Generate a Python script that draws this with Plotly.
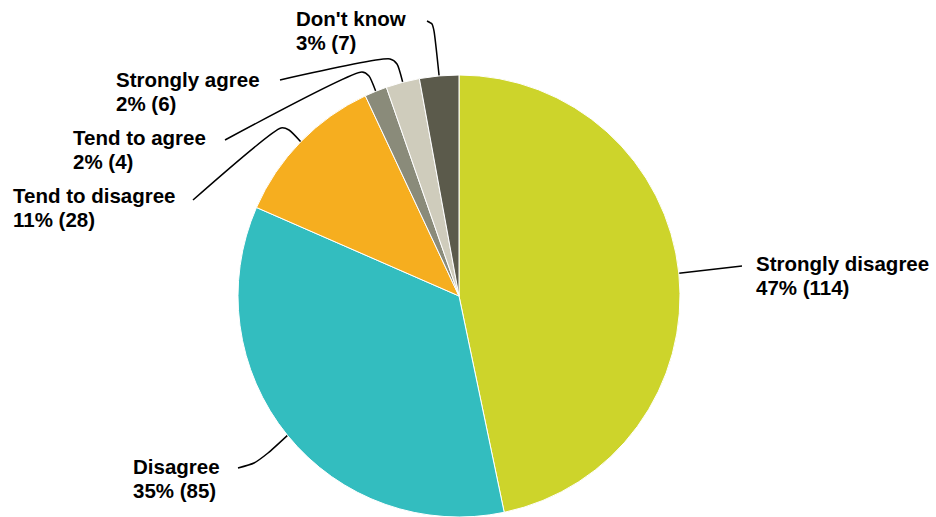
import math
import plotly.graph_objects as go

# ---- data ----
labels = ["Strongly disagree", "Disagree", "Tend to disagree",
          "Tend to agree", "Strongly agree", "Don't know"]
counts = [114, 85, 28, 4, 6, 7]
percents = [47, 35, 11, 2, 2, 3]
colors = ["#CDD42B", "#33BDBF", "#F6AE1F", "#8A8B7A", "#CFCCBC", "#5B5A4B"]

# ---- layout (pixel geometry) ----
W, H = 936, 517
CX, CY, R = 459, 296, 221

# label text left edge and first-line baseline (pixels)
label_pos = [(756, 270), (133, 473), (13, 202), (73, 144), (116, 86), (296, 25)]
# leader path from label towards the slice (pixels); the slice-edge point is appended from data
leader_paths = [
    [(742, 266)],
    [(238, 468), (254, 463), (268, 453)],
    [(193, 200), (281, 128), (289, 130)],
    [(225, 140), (362, 72), (369, 76)],
    [(280, 80), (390, 59), (397, 64)],
    [(427, 21), (432, 24), (434, 31)],
]
LINE_GAP = 24
FONT = dict(family="Liberation Sans, Arial, sans-serif", size=20.5, color="#000000", weight="bold")

fig = go.Figure()
fig.add_trace(go.Pie(
    labels=labels, values=counts, sort=False, direction="clockwise", rotation=0,
    marker=dict(colors=colors, line=dict(color="white", width=1)),
    textinfo="none", hoverinfo="label+value+percent", showlegend=False,
    domain=dict(x=[(CX - R) / W, (CX + R) / W], y=[(H - CY - R) / H, (H - CY + R) / H]),
))

total = sum(counts)
cum = 0
annotations = []
for i, (lab, c, p) in enumerate(zip(labels, counts, percents)):
    mid = (cum + c / 2) / total
    cum += c
    th = 2 * math.pi * mid
    ex, ey = CX + R * math.sin(th), CY - R * math.cos(th)
    pts = leader_paths[i] + [(ex, ey)]
    fig.add_trace(go.Scatter(
        x=[q[0] for q in pts], y=[q[1] for q in pts], mode="lines",
        line=dict(color="black", width=1.5, shape="spline", smoothing=0.6),
        hoverinfo="skip", showlegend=False,
    ))
    lx, by = label_pos[i]
    for k, txt in enumerate([lab, f"{p}% ({c})"]):
        annotations.append(dict(
            x=lx - 2, y=by + k * LINE_GAP - 7, xref="x", yref="y",
            text=txt, showarrow=False, xanchor="left", yanchor="middle",
            font=FONT,
        ))

fig.update_layout(
    width=W, height=H, margin=dict(l=0, r=0, t=0, b=0),
    paper_bgcolor="white", plot_bgcolor="rgba(0,0,0,0)",
    xaxis=dict(range=[0, W], visible=False, fixedrange=True),
    yaxis=dict(range=[H, 0], visible=False, fixedrange=True),
    annotations=annotations,
)

fig.write_html("out.html", config={"displayModeBar": False},
               post_script="document.body.style.margin='0';document.body.style.overflow='hidden';")
